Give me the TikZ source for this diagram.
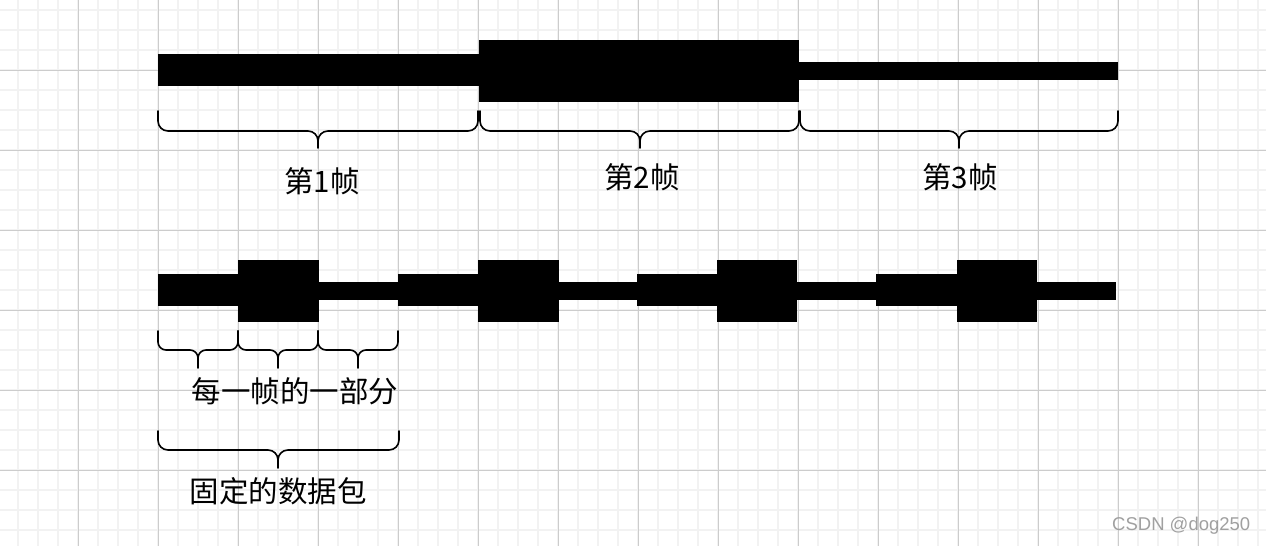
\documentclass[tikz,border=0pt]{standalone}
\usepackage{fontspec}
\newfontfamily\cjk{Noto Sans CJK SC}
\setmainfont{Liberation Sans}
\definecolor{gridminor}{HTML}{F2F2F2}
\definecolor{gridmajor}{HTML}{CCCCCC}
\definecolor{wm}{HTML}{A0A0A0}
\tikzset{
  bar/.style={fill=black,draw=none},
  lbl/.style={inner sep=0pt,font=\cjk\fontsize{29.5}{29.5}\selectfont},
  bracepath/.style={draw=black,line width=1.6pt,line cap=round,line join=round},
}
% brace: #1=x0, #2=x1, #3=xc, #4=y0, #5=ym, #6=y1, #7=r
\newcommand{\mybrace}[7]{%
  \draw[bracepath] (#1,#4) -- (#1,#5-#7) to[out=-90,in=180] (#1+#7,#5) -- (#3-#7,#5)
    to[out=0,in=90] (#3,#5+#7) -- (#3,#6);
  \draw[bracepath] (#3,#5+#7) to[out=90,in=180] (#3+#7,#5) -- (#2-#7,#5)
    to[out=0,in=-90] (#2,#5-#7) -- (#2,#4);
}
\begin{document}
\begin{tikzpicture}[x=1pt,y=-1pt]
\useasboundingbox (0,0) rectangle (1266,546);
\fill[white] (0,0) rectangle (1266,546);
% grid
\foreach \x in {18,38,...,1266} \draw[gridminor,line width=2pt] (\x,0) -- (\x,546);
\foreach \y in {10,30,...,546} \draw[gridminor,line width=2pt] (0,\y) -- (1266,\y);
\foreach \x in {78,158,...,1266} \draw[gridmajor,line width=1pt] (\x,0) -- (\x,546);
\foreach \y in {70,150,...,546} \draw[gridmajor,line width=1pt] (0,\y) -- (1266,\y);
% top bars
\fill[bar] (158,54) rectangle (479,86);
\fill[bar] (479,40) rectangle (799,102);
\fill[bar] (799,62) rectangle (1118,80);
% top braces
\mybrace{158}{478}{318}{111}{131}{148}{10}
\mybrace{480}{799}{640}{111}{131}{148}{10}
\mybrace{800}{1118}{959}{111}{131}{148}{10}
\node[lbl] (f1) at (322,181) {第1帧};
\node[lbl] (f2) at (642,177) {第2帧};
\node[lbl] (f3) at (960,177) {第3帧};
% bottom bars: medium, tall, thin repeating
\foreach \a/\b in {158/239,398/479,637/717,876/957} \fill[bar] (\a,274) rectangle (\b,306);
\foreach \a/\b in {238/319,478/559,717/797,957/1037} \fill[bar] (\a,260) rectangle (\b,322);
\foreach \a/\b in {318/399,558/638,796/877,1036/1116} \fill[bar] (\a,282) rectangle (\b,300);
% small braces
\mybrace{158}{238}{198}{331}{350}{368}{8}
\mybrace{238}{318}{278}{331}{350}{368}{8}
\mybrace{318}{398}{358}{331}{350}{368}{8}
\node[lbl] (part) at (295,391) {每一帧的一部分};
% big brace
\mybrace{158}{399}{278}{431}{450}{468}{10}
\node[lbl] (pkt) at (278,491) {固定的数据包};
% watermark
\node[inner sep=0pt,text=wm,font=\fontsize{18.5}{18.5}\selectfont,anchor=west] (wm) at (1112,526) {CSDN @dog250};
\end{tikzpicture}
\end{document}
